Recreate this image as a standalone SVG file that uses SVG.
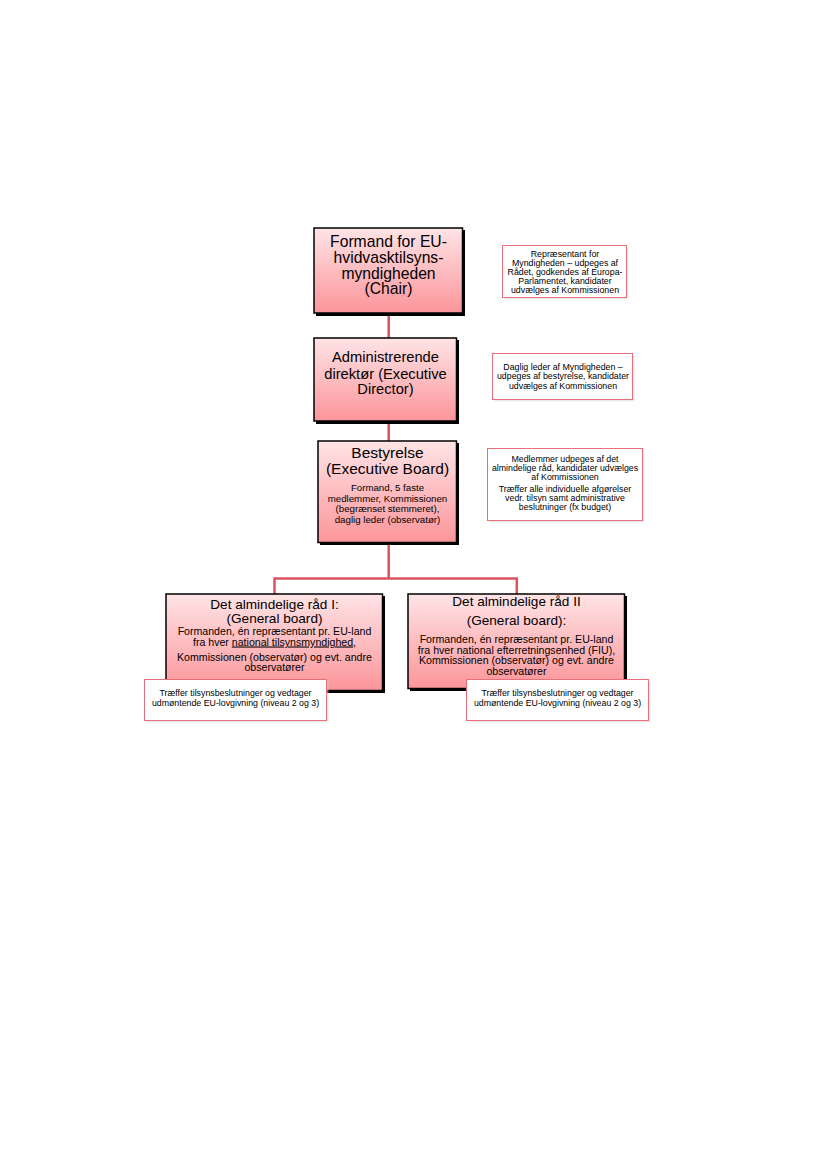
<svg xmlns="http://www.w3.org/2000/svg" width="827" height="1169" viewBox="0 0 827 1169">
<defs>
<linearGradient id="pinkGrad" x1="0" y1="0" x2="0" y2="1">
<stop offset="0" stop-color="#ffe4e6"/>
<stop offset="1" stop-color="#fb959a"/>
</linearGradient>
</defs>
<style>
text{font-family:"Liberation Sans",Arial,sans-serif;fill:#000;text-anchor:middle}
.box{fill:url(#pinkGrad);stroke:#000;stroke-width:1.5}
.shadow{fill:#000}
.note{fill:#fff;stroke:#e8707a;stroke-width:1}
.noteShadow{fill:#d8d8d8;opacity:0.5}
.conn{fill:none;stroke:#d9545f;stroke-width:2.5}
.t1{font-size:15.7px}
.t2{font-size:14.7px}
.t3{font-size:15.5px}
.t4{font-size:13.6px}
.b3{font-size:9.7px}
.b4{font-size:10.6px}
.n{font-size:8.8px}
</style>
<rect width="827" height="1169" fill="#fff"/>
<g id="connectors">
<line class="conn" x1="388.7" y1="313" x2="388.7" y2="338"/>
<line class="conn" x1="388.7" y1="421" x2="388.7" y2="441"/>
<polyline class="conn" points="388.7,543 388.7,578.5"/>
<polyline class="conn" points="274.5,594 274.5,578.5 516.8,578.5 516.8,594"/>
</g>
<g id="chair">
<rect class="shadow" x="316" y="230" width="149" height="86"/>
<rect class="box" x="314" y="228" width="148.5" height="85"/>
<text class="t1" x="388.5" y="246.5">Formand for EU-</text>
<text class="t1" x="388.5" y="262.5">hvidvasktilsyns-</text>
<text class="t1" x="388.5" y="278.5">myndigheden</text>
<text class="t1" x="388.5" y="294">(Chair)</text>
</g>
<g id="note-chair">
<rect class="noteShadow" x="504.5" y="247.5" width="124" height="52"/>
<rect class="note" x="502.5" y="245.5" width="124" height="52"/>
<text class="n" x="565" y="257">Repræsentant for</text>
<text class="n" x="565" y="266">Myndigheden – udpeges af</text>
<text class="n" x="565" y="275">Rådet, godkendes af Europa-</text>
<text class="n" x="565" y="284">Parlamentet, kandidater</text>
<text class="n" x="565" y="293">udvælges af Kommissionen</text>
</g>
<g id="executive-director">
<rect class="shadow" x="316" y="340" width="143" height="84"/>
<rect class="box" x="314" y="338" width="142.5" height="83"/>
<text class="t2" x="385.5" y="362.3">Administrerende</text>
<text class="t2" x="385.5" y="378.5">direktør (Executive</text>
<text class="t2" x="385.5" y="393.5">Director)</text>
</g>
<g id="note-executive-director">
<rect class="noteShadow" x="494.5" y="355.5" width="140" height="46"/>
<rect class="note" x="492.5" y="353.5" width="140" height="46"/>
<text class="n" x="563" y="370">Daglig leder af Myndigheden –</text>
<text class="n" x="563" y="379.3">udpeges af bestyrelse, kandidater</text>
<text class="n" x="563" y="388.6">udvælges af Kommissionen</text>
</g>
<g id="executive-board">
<rect class="shadow" x="320" y="443" width="139" height="102"/>
<rect class="box" x="318" y="441" width="138.5" height="101.5"/>
<text class="t3" x="387.5" y="457.5">Bestyrelse</text>
<text class="t3" x="387.5" y="473.5">(Executive Board)</text>
<text class="b3" x="387.5" y="491">Formand, 5 faste</text>
<text class="b3" x="387.5" y="501.5">medlemmer, Kommissionen</text>
<text class="b3" x="387.5" y="512">(begrænset stemmeret),</text>
<text class="b3" x="387.5" y="522.5">daglig leder (observatør)</text>
</g>
<g id="note-executive-board">
<rect class="noteShadow" x="489.5" y="450.5" width="155" height="72"/>
<rect class="note" x="487.5" y="448.5" width="155" height="72"/>
<text class="n" x="565" y="461.7">Medlemmer udpeges af det</text>
<text class="n" x="565" y="470.7">almindelige råd, kandidater udvælges</text>
<text class="n" x="565" y="479.5">af Kommissionen</text>
<text class="n" x="565" y="491.7">Træffer alle individuelle afgørelser</text>
<text class="n" x="565" y="500.7">vedr. tilsyn samt administrative</text>
<text class="n" x="565" y="510">beslutninger (fx budget)</text>
</g>
<g id="general-board-1">
<rect class="shadow" x="168" y="596" width="217" height="97"/>
<rect class="box" x="166" y="594" width="216.5" height="96.5"/>
<text class="t4" x="274.5" y="609.3">Det almindelige råd I:</text>
<text class="t4" x="274.5" y="623">(General board)</text>
<text class="b4" x="274.5" y="635">Formanden, én repræsentant pr. EU-land</text>
<text class="b4" x="274.5" y="645.5">fra hver <tspan text-decoration="underline">national tilsynsmyndighed</tspan>,</text>
<text class="b4" x="274.5" y="660.7">Kommissionen (observatør) og evt. andre</text>
<text class="b4" x="274.5" y="671">observatører</text>
</g>
<g id="general-board-2">
<rect class="shadow" x="410" y="596" width="217" height="95"/>
<rect class="box" x="408" y="594" width="216.5" height="94.5"/>
<text class="t4" x="516.5" y="606">Det almindelige råd II</text>
<text class="t4" x="516.5" y="625">(General board):</text>
<text class="b4" x="516.5" y="643.3">Formanden, én repræsentant pr. EU-land</text>
<text class="b4" x="516.5" y="653.5">fra hver national efterretningsenhed (FIU),</text>
<text class="b4" x="516.5" y="664">Kommissionen (observatør) og evt. andre</text>
<text class="b4" x="516.5" y="675">observatører</text>
</g>
<g id="note-general-board-1">
<rect class="noteShadow" x="146.5" y="681.5" width="182" height="41"/>
<rect class="note" x="144.5" y="679.5" width="182" height="41"/>
<text class="n" x="235.5" y="696">Træffer tilsynsbeslutninger og vedtager</text>
<text class="n" x="235.5" y="706">udmøntende EU-lovgivning (niveau 2 og 3)</text>
</g>
<g id="note-general-board-2">
<rect class="noteShadow" x="468.5" y="681.5" width="182" height="41"/>
<rect class="note" x="466.5" y="679.5" width="182" height="41"/>
<text class="n" x="557.5" y="696">Træffer tilsynsbeslutninger og vedtager</text>
<text class="n" x="557.5" y="706">udmøntende EU-lovgivning (niveau 2 og 3)</text>
</g>
</svg>
